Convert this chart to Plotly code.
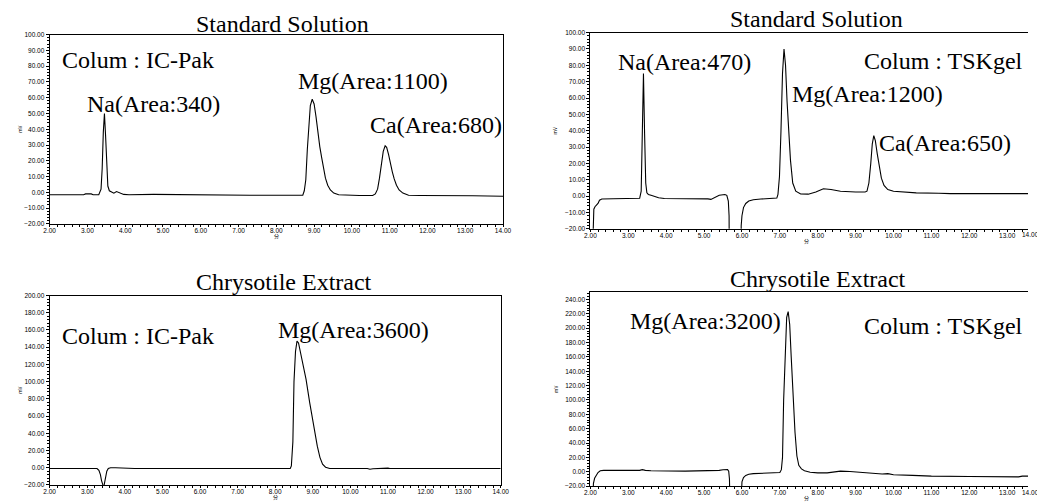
import plotly.graph_objects as go

W, H = 1037, 502

# ---------------- data (minutes, mV) ----------------
# Standard solution, IC-Pak column
t_std_ic = [2.00, 2.90, 2.95, 3.10, 3.15, 3.30, 3.36, 3.39, 3.42, 3.45,
            3.48, 3.51, 3.54, 3.58, 3.64, 3.70, 3.77, 3.82, 3.88, 3.96,
            4.10, 4.60, 4.75, 7.30, 8.70, 8.74, 8.78, 8.82, 8.86, 8.90,
            8.95, 9.00, 9.05, 9.10, 9.15, 9.20, 9.25, 9.30, 9.36, 9.43,
            9.52, 9.65, 10.20, 10.55, 10.62, 10.68, 10.73, 10.78, 10.83, 10.88,
            10.92, 10.97, 11.02, 11.07, 11.12, 11.18, 11.25, 11.35, 11.50, 11.80,
            13.20, 14.00]
v_std_ic = [-1.5, -1.5, -1.0, -1.0, -1.5, -1.5, 2.0, 15.0, 38.0, 50.0,
            36.0, 14.0, 4.0, 1.0, 0.0, -0.5, 0.5, 0.0, -0.8, -1.3,
            -1.5, -1.5, -1.3, -1.8, -1.8, 1.0, 8.0, 27.0, 44.0, 55.0,
            59.0, 56.0, 48.0, 38.0, 29.0, 22.0, 15.0, 9.0, 4.5, 1.5,
            -0.5, -1.5, -2.0, -2.0, -1.0, 2.0, 9.0, 18.0, 26.0, 29.5,
            28.5, 24.0, 18.0, 13.0, 8.5, 4.5, 1.5, -0.5, -1.8, -2.0,
            -2.2, -2.5]

# Standard solution, TSKgel column
t_std_tsk = [2.05, 2.07, 2.09, 2.12, 2.17, 2.20, 2.24, 2.30, 2.60, 3.00,
             3.30, 3.34, 3.37, 3.40, 3.43, 3.46, 3.49, 3.53, 3.60, 3.70,
             3.80, 3.95, 4.50, 5.00, 5.10, 5.18, 5.28, 5.40, 5.55, 5.60,
             5.64, 5.66, 5.67, 5.97, 5.98, 6.00, 6.04, 6.10, 6.18, 6.30,
             6.50, 6.80, 6.92, 6.95, 6.99, 7.03, 7.07, 7.11, 7.15, 7.19,
             7.23, 7.28, 7.34, 7.42, 7.55, 7.75, 7.95, 8.15, 8.35, 8.60,
             9.00, 9.25, 9.30, 9.35, 9.40, 9.44, 9.48, 9.52, 9.57, 9.62,
             9.68, 9.75, 9.85, 10.00, 10.60, 11.20, 11.50, 13.60]
v_std_tsk = [-40.0, -15.0, -8.0, -6.5, -5.5, -4.5, -2.5, -1.8, -1.6, -1.5,
             -1.3, 3.0, 35.0, 75.0, 38.0, 8.0, 2.0, 1.0, 0.5, -0.3,
             -1.0, -1.5, -1.5, -1.5, -1.7, -2.0, -0.8, 0.5, 1.0, 0.5,
             -3.0, -12.0, -60.0, -60.0, -18.0, -12.0, -7.0, -4.5, -3.0, -2.2,
             -1.8, -1.5, -1.2, 1.0, 12.0, 40.0, 75.0, 90.0, 80.0, 58.0,
             42.0, 22.0, 8.0, 3.0, 1.3, 1.2, 2.5, 4.5, 4.0, 3.0,
             2.5, 2.5, 3.0, 8.0, 20.0, 32.0, 37.0, 34.0, 26.0, 18.0,
             11.0, 6.5, 4.0, 3.0, 2.0, 1.8, 1.5, 1.5]

# Chrysotile extract, IC-Pak column
t_ext_ic = [2.00, 2.85, 2.88, 3.22, 3.26, 3.31, 3.35, 3.38, 3.41, 3.43,
            3.45, 3.48, 3.52, 3.56, 3.62, 3.75, 3.88, 3.92, 4.22, 4.26,
            8.40, 8.43, 8.47, 8.50, 8.54, 8.58, 8.62, 8.70, 8.82, 8.92,
            9.03, 9.12, 9.19, 9.26, 9.34, 9.45, 10.45, 10.52, 10.60, 10.80,
            11.00, 11.05, 14.00]
v_ext_ic = [-1.0, -1.0, -0.5, -0.5, -1.0, -3.0, -8.0, -15.0, -20.0, -22.0,
            -20.0, -12.0, -4.0, -1.0, 0.0, 0.0, -0.3, -0.6, -0.6, -1.0,
            -1.0, 2.0, 30.0, 100.0, 135.0, 147.0, 145.0, 128.0, 103.0, 75.0,
            46.0, 25.0, 12.0, 4.0, 0.5, -1.0, -1.0, -1.8, -1.2, -0.5,
            -0.5, -1.0, -1.0]

# Chrysotile extract, TSKgel column
t_ext_tsk = [2.06, 2.08, 2.11, 2.15, 2.20, 2.26, 2.35, 3.30, 3.37, 3.45,
             3.60, 4.50, 5.30, 5.40, 5.50, 5.62, 5.65, 5.67, 5.68, 5.98,
             6.00, 6.04, 6.10, 6.18, 6.30, 6.50, 6.80, 7.00, 7.04, 7.07,
             7.10, 7.14, 7.18, 7.22, 7.26, 7.30, 7.35, 7.40, 7.45, 7.50,
             7.57, 7.65, 7.80, 8.00, 8.25, 8.45, 8.60, 8.85, 9.20, 9.70,
             9.85, 10.00, 10.50, 11.00, 12.00, 13.00, 13.30, 13.40, 13.60]
v_ext_tsk = [-40.0, -16.0, -9.0, -5.0, -1.0, 1.5, 2.0, 2.0, 3.0, 2.0,
             1.5, 1.0, 1.0, 2.0, 2.8, 3.0, 1.0, -10.0, -40.0, -40.0,
             -14.0, -8.0, -5.0, -3.5, -2.5, -2.0, -1.5, -1.0, 3.0, 20.0,
             100.0, 175.0, 215.0, 223.0, 205.0, 160.0, 105.0, 55.0, 22.0, 9.0,
             4.0, 1.5, -0.5, -1.5, -1.5, -0.5, 1.0, 0.5, -1.0, -3.0,
             -2.5, -4.0, -5.0, -6.0, -6.5, -7.0, -7.0, -6.0, -6.0]

for a, b in [(t_std_ic, v_std_ic), (t_std_tsk, v_std_tsk),
             (t_ext_ic, v_ext_ic), (t_ext_tsk, v_ext_tsk)]:
    assert len(a) == len(b), (len(a), len(b))

panel_titles = ["Standard Solution", "Standard Solution",
                "Chrysotile Extract", "Chrysotile Extract"]
x_ranges = [[2, 14], [2, 13.55], [2, 14], [2, 13.55]]
y_ranges = [[-20, 100], [-20, 100], [-20, 200], [-20, 250]]
y_dticks = [10, 10, 20, 20]
x_title = "分"
y_title = "mV"

# ---------------- figure ----------------
fig = go.Figure()
series = [(t_std_ic, v_std_ic), (t_std_tsk, v_std_tsk),
          (t_ext_ic, v_ext_ic), (t_ext_tsk, v_ext_tsk)]
for i, (t, v) in enumerate(series):
    sfx = "" if i == 0 else str(i + 1)
    fig.add_trace(go.Scatter(x=t, y=v, mode="lines",
                             line=dict(color="black", width=1.1),
                             xaxis="x" + sfx, yaxis="y" + sfx,
                             showlegend=False, hoverinfo="skip"))

def px_x(p):
    return p / W

def px_y(p):
    return 1 - p / H

# plot-area pixel boxes: left, right, top, bottom
boxes = [(44.3, 504.3, 31.0, 223.0),
         (593.0, W, 29.0, 228.0),
         (44.3, 502.0, 295.7, 487.7),
         (593.0, W, 292.3, 489.0)]

tickfont = dict(family="Liberation Sans, Arial, sans-serif", size=6.5, color="black")
layout = dict(width=W, height=H, margin=dict(l=0, r=0, t=0, b=0),
              paper_bgcolor="white", plot_bgcolor="white", showlegend=False)

for i, (l, r, tp, bt) in enumerate(boxes):
    sfx = "" if i == 0 else str(i + 1)
    full_box = i in (0, 2)
    layout["xaxis" + sfx] = dict(
        domain=[px_x(l), min(1.0, px_x(r))], range=x_ranges[i],
        anchor="y" + sfx, tickmode="linear", tick0=2, dtick=1,
        tickformat=".2f", ticks="outside", ticklen=2, tickwidth=1,
        tickcolor="black", showline=True, linecolor="black", linewidth=1,
        mirror=True, showgrid=False, zeroline=False, tickfont=tickfont,
        ticklabelstandoff=-2,
        minor=dict(dtick=0.2, ticks="outside", ticklen=2, tickwidth=0.8,
                   tickcolor="black", showgrid=False),
        fixedrange=True)
    layout["yaxis" + sfx] = dict(
        domain=[px_y(bt), px_y(tp)], range=y_ranges[i],
        anchor="x" + sfx, tickmode="linear", tick0=-20, dtick=y_dticks[i],
        tickformat=".2f", ticks="outside", ticklen=3, tickwidth=1,
        tickcolor="black", showline=True, linecolor="black", linewidth=1,
        mirror=full_box, showgrid=False, zeroline=False, tickfont=tickfont,
        minor=dict(dtick=y_dticks[i] / 5, ticks="outside", ticklen=2,
                   tickwidth=0.8, tickcolor="black", showgrid=False),
        fixedrange=True)

serif = dict(family="Liberation Serif, Times New Roman, serif", size=24, color="black")
ann = []

# panel titles (pixel centre x, centre y)
title_pos = [(281, 20), (822, 15), (282, 282), (824, 279)]
for (cx, cy), txt in zip(title_pos, panel_titles):
    ann.append(dict(text=txt, x=px_x(cx), y=px_y(cy), xref="paper", yref="paper",
                    xanchor="center", yanchor="middle", showarrow=False, font=serif))

# peak / column labels (pixel left x, centre y)
labels = [("Colum : IC-Pak", 55, 57), ("Na(Area:340)", 80, 101),
          ("Mg(Area:1100)", 294, 78), ("Ca(Area:680)", 367, 123),
          ("Na(Area:470)", 619, 59), ("Colum : TSKgel", 869, 58),
          ("Mg(Area:1200)", 796, 91), ("Ca(Area:650)", 884, 141),
          ("Colum : IC-Pak", 55, 337), ("Mg(Area:3600)", 274, 331),
          ("Mg(Area:3200)", 631, 321), ("Colum : TSKgel", 869, 327)]
for txt, lx, cy in labels:
    ann.append(dict(text=txt, x=px_x(lx), y=px_y(cy), xref="paper", yref="paper",
                    xanchor="left", yanchor="middle", showarrow=False, font=serif))

# axis titles
small = dict(family="Noto Sans CJK JP, Liberation Sans, sans-serif", size=5, color="black")
for i, (l, r, tp, bt) in enumerate(boxes):
    ylab_x = 13 if l < 100 else 557
    ann.append(dict(text=y_title, x=px_x(ylab_x), y=px_y((tp + bt) / 2), xref="paper",
                    yref="paper", xanchor="center", yanchor="middle", textangle=-90,
                    showarrow=False, font=small))
    xc = (l + r) / 2 if r < W else 812
    ann.append(dict(text=x_title, x=px_x(xc), y=px_y(bt + 12), xref="paper",
                    yref="paper", xanchor="center", yanchor="middle",
                    showarrow=False, font=small))

# partially visible "14.00" tick label at the cut-off right edge of the TSKgel axes
for i in (1, 3):
    l, r, tp, bt = boxes[i]
    ann.append(dict(text="14.00", x=px_x(1029), y=px_y(bt + 6), xref="paper",
                    yref="paper", xanchor="left", yanchor="middle",
                    showarrow=False, font=tickfont))

layout["annotations"] = ann
fig.update_layout(**layout)
fig.write_html("out.html", config={"displayModeBar": False})
